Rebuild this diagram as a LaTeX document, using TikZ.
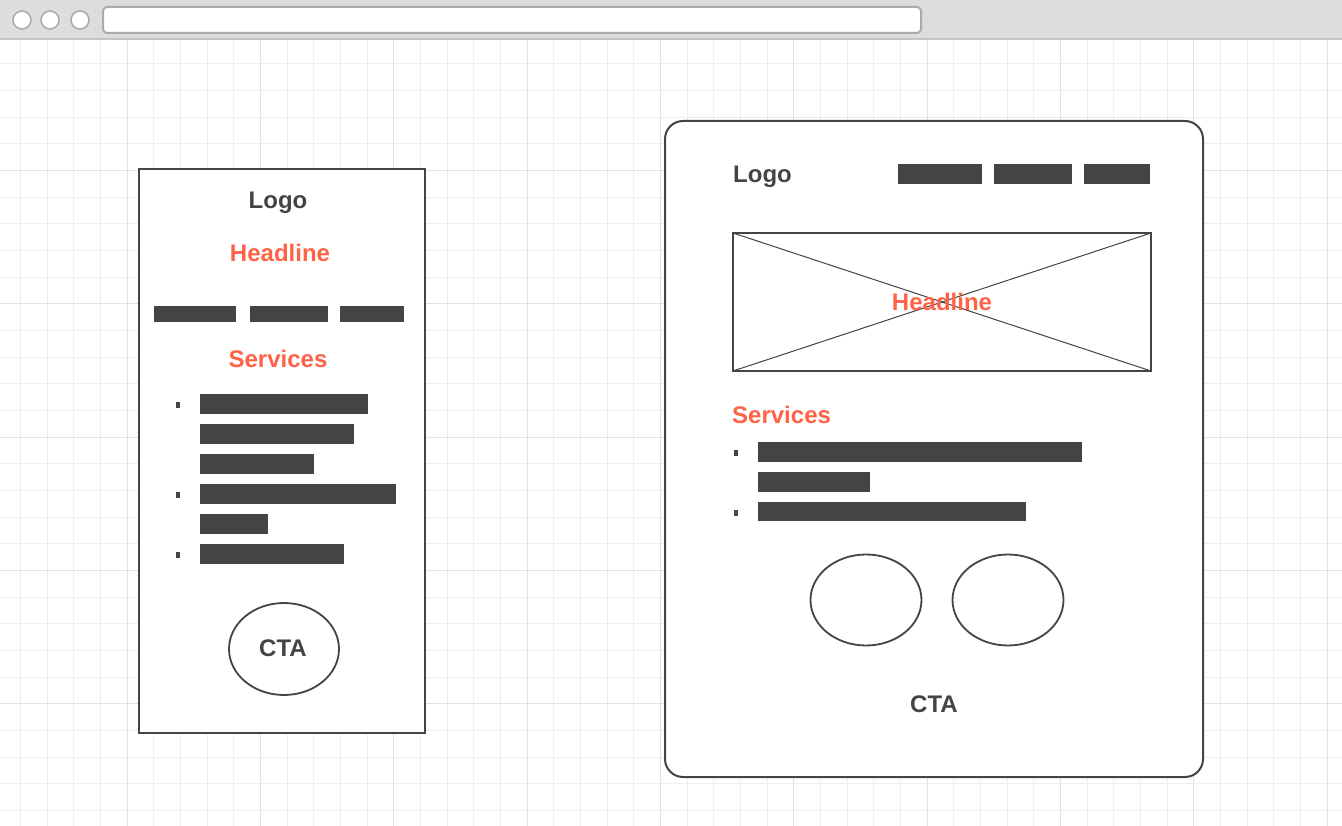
\documentclass[tikz,border=0pt]{standalone}
\usepackage{fontspec}
\setmainfont{Liberation Sans}
\usetikzlibrary{shapes.geometric}
\definecolor{ink}{HTML}{444444}
\definecolor{accent}{HTML}{FF6347}
\definecolor{gridminor}{HTML}{EEEEEE}
\definecolor{gridmajor}{HTML}{E2E2E2}
\definecolor{chrome}{HTML}{DDDDDD}
\definecolor{chromeline}{HTML}{C4C4C4}
\definecolor{chromeedge}{HTML}{AAAAAA}
\tikzset{
  label/.style={font=\bfseries\fontsize{24}{28}\selectfont, text=ink, inner sep=0pt, anchor=base},
  hilabel/.style={label, text=accent},
  bar/.style={fill=ink, draw=none},
  frame/.style={draw=ink, line width=2pt, fill=white},
  bubble/.style={draw=ink, line width=1.8pt, ellipse, fill=white, inner sep=0pt},
  gridline/.style={line width=1.3pt},
}
\begin{document}
\begin{tikzpicture}[x=1pt, y=-1pt]
\useasboundingbox (0,0) rectangle (1342,826);
\fill[white] (0,0) rectangle (1342,826);
% background grid, snapped to whole pixels
\begin{scope}
  \clip (0,39) rectangle (1342,826);
  \foreach \k in {0,...,50} {
    \pgfmathsetmacro\gx{round(20+26.6667*\k)+0.5}
    \draw[gridminor, gridline] (\gx,39) -- (\gx,826);
  }
  \foreach \k in {-1,...,30} {
    \pgfmathsetmacro\gy{round(63.333+26.6667*\k)+0.5}
    \draw[gridminor, gridline] (0,\gy) -- (1342,\gy);
  }
  \foreach \k in {0,...,9} {
    \pgfmathsetmacro\gx{round(126.667+133.333*\k)+0.5}
    \draw[gridmajor, gridline] (\gx,39) -- (\gx,826);
  }
  \foreach \k in {0,...,5} {
    \pgfmathsetmacro\gy{round(170+133.333*\k)+0.5}
    \draw[gridmajor, gridline] (0,\gy) -- (1342,\gy);
  }
\end{scope}
% browser chrome
\fill[chrome] (0,0) rectangle (1342,39);
\draw[chromeline, line width=2pt] (0,39) -- (1342,39);
\foreach \cx/\nm in {22/b1,50/b2,80/b3} {
  \node[circle, draw=chromeedge, line width=1.5pt, fill=white, minimum size=18pt, inner sep=0pt] (\nm) at (\cx,20) {};
}
\draw[chromeedge, line width=2pt, fill=white, rounded corners=4pt] (103,7) rectangle (921,33);

% ---------- mobile layout ----------
\draw[frame] (139,169) rectangle (425,733);
\node[label] (mlogo) at (278,208.3) {Logo};
\node[hilabel] (mhead) at (280,262) {Headline};
\fill[bar] (154,306) rectangle (236,322);
\fill[bar] (250,306) rectangle (328,322);
\fill[bar] (340,306) rectangle (404,322);
\node[hilabel] (mserv) at (278,367.3) {Services};
\foreach \y in {402,492,552} { \fill[bar] (176,\y) rectangle (180,\y+6); }
\fill[bar] (200,394) rectangle (368,414);
\fill[bar] (200,424) rectangle (354,444);
\fill[bar] (200,454) rectangle (314,474);
\fill[bar] (200,484) rectangle (396,504);
\fill[bar] (200,514) rectangle (268,534);
\fill[bar] (200,544) rectangle (344,564);
\node[bubble, minimum width=110pt, minimum height=92pt] (mcta) at (284,649) {};
\node[label] (mctatext) at (283,656.5) {CTA};

% ---------- desktop layout ----------
\draw[frame, rounded corners=18pt] (665,121) rectangle (1203,777);
\node[label, anchor=base west] (dlogo) at (733,182.3) {Logo};
\fill[bar] (898,164) rectangle (982,184);
\fill[bar] (994,164) rectangle (1072,184);
\fill[bar] (1084,164) rectangle (1150,184);
\draw[ink, line width=1.8pt, fill=white] (733,233) rectangle (1151,371);
\draw[ink, line width=1pt] (733,233) -- (1151,371);
\draw[ink, line width=1pt] (733,371) -- (1151,233);
\node[hilabel] (dhead) at (942,310.5) {Headline};
\node[hilabel, anchor=base west] (dserv) at (732,423.3) {Services};
\foreach \y in {450,510} { \fill[bar] (734,\y) rectangle (738,\y+6); }
\fill[bar] (758,442) rectangle (1082,462);
\fill[bar] (758,472) rectangle (870,492);
\fill[bar] (758,502) rectangle (1026,521);
\node[bubble, minimum width=111pt, minimum height=91pt] (dbtnA) at (866,600) {};
\node[bubble, minimum width=111pt, minimum height=91pt] (dbtnB) at (1008,600) {};
\node[label] (dcta) at (934,712.5) {CTA};
\end{tikzpicture}
\end{document}
